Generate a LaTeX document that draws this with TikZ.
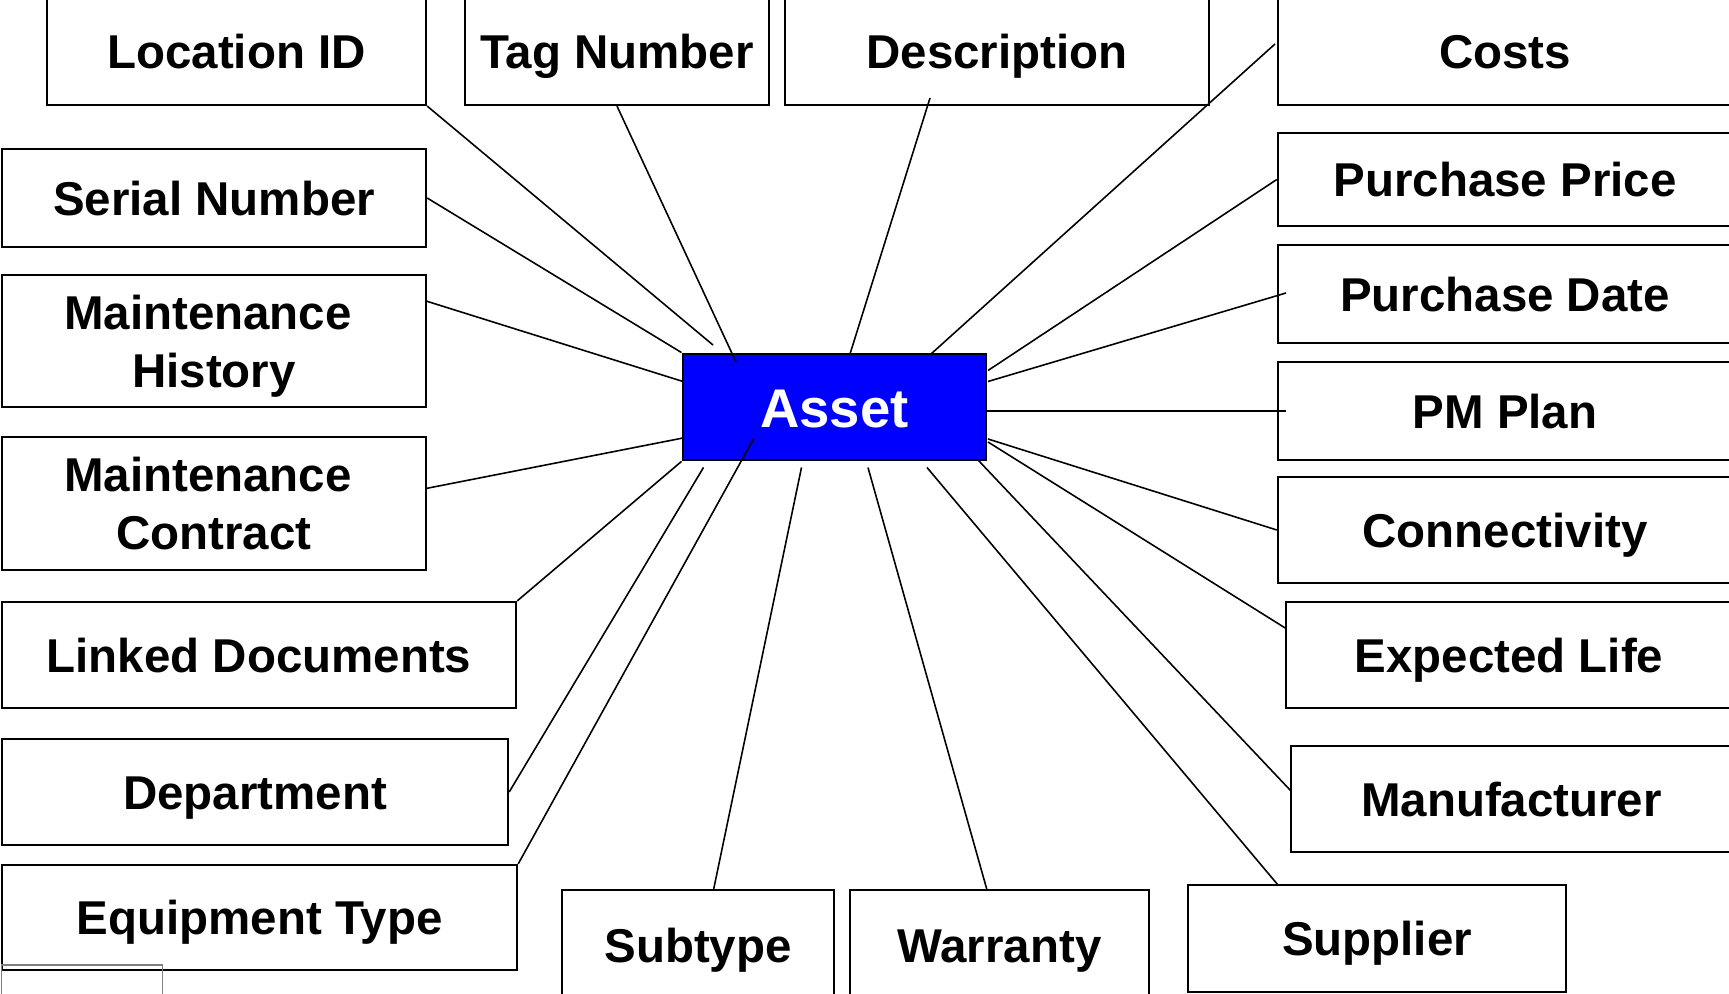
\documentclass[tikz,border=0pt]{standalone}
\usepackage{fontspec}
\setmainfont{Liberation Sans}
\usepackage{tikz}
\usetikzlibrary{calc}
\usetikzlibrary{positioning}
\definecolor{assetblue}{RGB}{0,0,255}

\tikzset{
	attrbox/.style={draw, line width=0.6pt, font=\bfseries\fontsize{13.5}{16.5}\selectfont, align=center, inner sep=0pt},
	attr/.style={attrbox, text height=9.9pt, text depth=0pt},
	entity/.style={draw, line width=0.8pt, fill=assetblue, text=white, font=\bfseries\fontsize{15.5}{18}\selectfont, inner sep=0pt, text height=11.4pt, text depth=0pt},
	link/.style={line width=0.45pt}
}

\begin{document}
\begin{tikzpicture}[x=0.01cm,y=-0.01cm]
	\useasboundingbox (0,0) rectangle (1729,994);
	\clip (0,0) rectangle (1729,994);
	%entity
	\node[entity, minimum width=3.03cm, minimum height=1.06cm] (asset) at (834.5,407) {Asset};
	
	%top row
	\node[attr, minimum width=3.79cm, minimum height=1.07cm] (loc) at (236.5,51.5) {Location ID};
	\node[attr, minimum width=3.04cm, minimum height=1.07cm] (tag) at (617,51.5) {Tag Number};
	\node[attr, minimum width=4.24cm, minimum height=1.07cm] (desc) at (997,51.5) {Description};
	\node[attr, minimum width=4.54cm, minimum height=1.07cm] (costs) at (1505,51.5) {Costs};
	
	%left column
	\node[attr, minimum width=4.24cm, minimum height=0.98cm] (serial) at (214,198) {Serial Number};
	\node[attrbox, minimum width=4.24cm, minimum height=1.32cm] (mhist) at (214,341) {Maintenance\kern0.12cm\\\smash{History}};
	\node[attrbox, minimum width=4.24cm, minimum height=1.33cm] (mcon) at (214,503.5) {Maintenance\kern0.12cm\\\smash{Contract}};
	\node[attr, minimum width=5.14cm, minimum height=1.06cm] (linked) at (259,655) {Linked Documents};
	\node[attr, minimum width=5.06cm, minimum height=1.06cm] (dept) at (255,792) {Department};
	\node[attr, minimum width=5.15cm, minimum height=1.05cm] (equip) at (259.5,917.5) {Equipment Type};
	\node[draw=gray, line width=0.3pt, minimum width=1.6cm, minimum height=0.4cm, inner sep=0pt] (note) at (82,985) {};
	
	%bottom row
	\node[attr, minimum width=2.72cm, minimum height=1.10cm] (subtype) at (698,945) {Subtype};
	\node[attr, minimum width=2.99cm, minimum height=1.10cm] (warranty) at (999.5,945) {Warranty};
	\node[attr, minimum width=3.78cm, minimum height=1.07cm] (supplier) at (1377,938.5) {Supplier};
	
	%right column
	\node[attr, minimum width=4.54cm, minimum height=0.93cm] (pprice) at (1505,179.5) {Purchase Price};
	\node[attr, minimum width=4.54cm, minimum height=0.98cm] (pdate) at (1505,294) {Purchase Date};
	\node[attr, minimum width=4.54cm, minimum height=0.98cm] (pm) at (1505,411) {PM Plan};
	\node[attr, minimum width=4.54cm, minimum height=1.06cm] (conn) at (1505,530) {Connectivity};
	\node[attr, minimum width=4.46cm, minimum height=1.06cm] (life) at (1509,655) {Expected Life};
	\node[attr, minimum width=4.41cm, minimum height=1.06cm] (manu) at (1511.5,799) {Manufacturer};
	
	%ends of the links
	\coordinate (A_loc) at (713,345);
	\coordinate (A_tag) at (736,362);
	\coordinate (S_desc) at (930,98);
	\coordinate (A_desc) at (850,354);
	\coordinate (S_costs) at (1275,44);
	\coordinate (A_costs) at (931,354);
	\coordinate (S_mhist) at (426,301);
	\coordinate (A_mhist) at (683,381.5);
	\coordinate (S_mcon) at (426,488.5);
	\coordinate (A_mcon) at (683,438);
	\coordinate (A_dept) at (703.5,467.5);
	\coordinate (A_equip) at (754,438);
	\coordinate (S_subtype) at (713.5,890);
	\coordinate (A_subtype) at (801.5,467.5);
	\coordinate (S_warranty) at (987,890);
	\coordinate (A_warranty) at (868,467.5);
	\coordinate (S_supplier) at (1278,885);
	\coordinate (A_supplier) at (927,467.5);
	\coordinate (S_manu) at (1291,791);
	\coordinate (A_manu) at (978,460);
	\coordinate (S_life) at (1286,628.5);
	\coordinate (A_life) at (988,442);
	\coordinate (A_conn) at (988,439);
	\coordinate (S_pm) at (1286,411);
	\coordinate (A_pm) at (986,411);
	\coordinate (S_pdate) at (1286,293);
	\coordinate (A_pdate) at (988,381.5);
	\coordinate (A_pprice) at (988,370.5);
	
	%links
	\draw[link] (loc.south east) -- (A_loc);
	\draw[link] (tag.south) -- (A_tag);
	\draw[link] (S_desc) -- (A_desc);
	\draw[link] (S_costs) -- (A_costs);
	\draw[link] (serial.east) -- (asset.north west);
	\draw[link] (S_mhist) -- (A_mhist);
	\draw[link] (S_mcon) -- (A_mcon);
	\draw[link] (linked.north east) -- (asset.south west);
	\draw[link] (dept.east) -- (A_dept);
	\draw[link] (equip.north east) -- (A_equip);
	\draw[link] (S_subtype) -- (A_subtype);
	\draw[link] (S_warranty) -- (A_warranty);
	\draw[link] (S_supplier) -- (A_supplier);
	\draw[link] (S_manu) -- (A_manu);
	\draw[link] (S_life) -- (A_life);
	\draw[link] (conn.west) -- (A_conn);
	\draw[link] (S_pm) -- (A_pm);
	\draw[link] (S_pdate) -- (A_pdate);
	\draw[link] (pprice.west) -- (A_pprice);
\end{tikzpicture}
\end{document}
